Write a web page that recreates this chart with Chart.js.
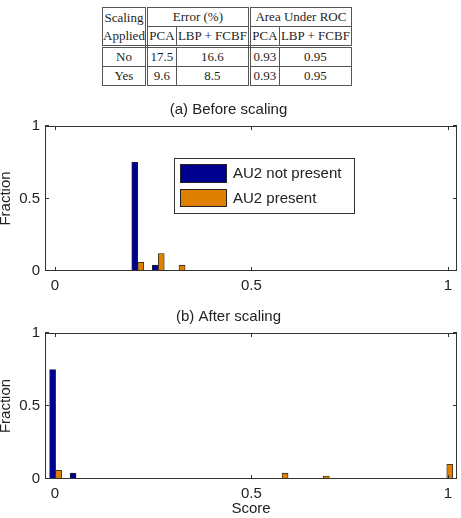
<!DOCTYPE html>
<html>
<head>
<meta charset="utf-8">
<script src="https://cdn.jsdelivr.net/npm/chart.js@4/dist/chart.umd.min.js"></script>
<style>
html,body{margin:0;padding:0;background:#fff;width:461px;height:518px;overflow:hidden;position:relative;}
#tbl{position:absolute;left:102px;top:7px;border-collapse:collapse;table-layout:fixed;
  font-family:"Liberation Serif","Times New Roman",serif;font-size:13px;color:#1e1e1e;}
#tbl td{border:1px solid #555;padding:0;text-align:center;height:18px;line-height:18px;white-space:nowrap;}
#tbl .dr{border-right:3px double #555;}
#tbl .db{border-bottom:3px double #555;}
#c1{position:absolute;left:0;top:90px;}
#c2{position:absolute;left:0;top:300px;}
</style>
</head>
<body>
<table id="tbl">
  <colgroup><col style="width:42px"><col style="width:30px"><col style="width:73px"><col style="width:30px"><col style="width:72px"></colgroup>
  <tr><td rowspan="2" class="dr db">Scaling<br>Applied</td><td colspan="2" class="dr">Error (%)</td><td colspan="2">Area Under ROC</td></tr>
  <tr><td class="db">PCA</td><td class="db dr">LBP + FCBF</td><td class="db">PCA</td><td class="db">LBP + FCBF</td></tr>
  <tr><td class="dr">No</td><td>17.5</td><td class="dr">16.6</td><td>0.93</td><td>0.95</td></tr>
  <tr><td class="dr">Yes</td><td>9.6</td><td class="dr">8.5</td><td>0.93</td><td>0.95</td></tr>
</table>
<canvas id="c1" width="461" height="210"></canvas>
<canvas id="c2" width="461" height="218"></canvas>
<script>
// ---- data ----
const seriesNames = ['AU2 not present', 'AU2 present'];
const xTicks = [0, 0.5, 1];
const yTicks = [0, 0.5, 1];
const beforeBins = [0.211, 0.263, 0.316];
const beforeNotPresent = [0.75, 0.04, 0];
const beforePresent = [0.06, 0.12, 0.04];
const afterBins = [0.002, 0.054, 0.578, 0.683, 0.997];
const afterNotPresent = [0.75, 0.04, 0, 0, 0];
const afterPresent = [0.06, 0, 0.04, 0.02, 0.10];

const BLUE = '#00008f';
const ORANGE = '#e08000';
const EDGE = '#222222';
const AXIS = '#333333';
const TXT = '#222222';
const FONT = "'Liberation Sans', Arial, Helvetica, sans-serif";

function pts(bins, vals) { return bins.map((b, i) => ({ x: b, y: vals[i] })); }

const boxPlugin = {
  id: 'matlabBox',
  afterDraw(chart) {
    const { ctx, chartArea: a, scales: { x, y } } = chart;
    ctx.save();
    ctx.strokeStyle = AXIS;
    ctx.lineWidth = 1;
    ctx.strokeRect(a.left + 0.5, a.top + 0.5, a.right - a.left - 1, a.bottom - a.top - 1);
    const tl = 4;
    ctx.beginPath();
    xTicks.forEach(v => {
      const px = Math.round(x.getPixelForValue(v)) + 0.5;
      ctx.moveTo(px, a.bottom); ctx.lineTo(px, a.bottom - tl);
      ctx.moveTo(px, a.top); ctx.lineTo(px, a.top + tl);
    });
    yTicks.forEach(v => {
      const py = Math.round(y.getPixelForValue(v)) - 0.5;
      ctx.moveTo(a.left, py); ctx.lineTo(a.left + tl, py);
      ctx.moveTo(a.right, py); ctx.lineTo(a.right - tl, py);
    });
    ctx.stroke();
    ctx.restore();
  }
};

const legendPlugin = {
  id: 'insideLegend',
  afterDraw(chart) {
    const { ctx, chartArea: a } = chart;
    const bx = a.left + 129, by = a.top + 32, bw = 180, bh = 55;
    ctx.save();
    ctx.fillStyle = '#fff';
    ctx.fillRect(bx, by, bw, bh);
    ctx.strokeStyle = AXIS;
    ctx.lineWidth = 1;
    ctx.strokeRect(bx + 0.5, by + 0.5, bw, bh);
    const rows = [{ y: by + 6, h: 19 }, { y: by + 31, h: 18 }];
    chart.data.datasets.forEach((ds, i) => {
      const r = rows[i];
      ctx.fillStyle = ds.backgroundColor;
      ctx.fillRect(bx + 6, r.y, 47, r.h);
      ctx.strokeStyle = EDGE;
      ctx.strokeRect(bx + 6.5, r.y + 0.5, 46, r.h - 1);
      ctx.fillStyle = TXT;
      ctx.font = '15px ' + FONT;
      ctx.textBaseline = 'middle';
      ctx.textAlign = 'left';
      ctx.fillText(ds.label, bx + 59, r.y + r.h / 2 + 0.5);
    });
    ctx.restore();
  }
};

function makeChart(id, titleText, titlePad, bins, a, b, xh, xTitle, withLegend) {
  const font = { family: FONT, size: 15, weight: 'normal' };
  return new Chart(document.getElementById(id), {
    type: 'bar',
    data: {
      datasets: [
        { label: seriesNames[0], data: pts(bins, a), backgroundColor: BLUE, borderColor: EDGE, borderWidth: 0.8 },
        { label: seriesNames[1], data: pts(bins, b), backgroundColor: ORANGE, borderColor: EDGE, borderWidth: 0.8 }
      ]
    },
    options: {
      responsive: false,
      animation: false,
      devicePixelRatio: 1,
      datasets: { bar: { barThickness: 6, grouped: true } },
      layout: { padding: { left: 0, right: 4, top: 0, bottom: 0 } },
      plugins: {
        legend: { display: false },
        tooltip: { enabled: false },
        title: { display: true, text: titleText, font: font, color: TXT, padding: titlePad }
      },
      scales: {
        x: {
          type: 'linear', min: -0.025, max: 1.023, offset: false,
          grid: { display: false, drawTicks: false },
          border: { display: false },
          ticks: { font: font, color: TXT, padding: 6, maxRotation: 0, autoSkip: false, callback: v => String(v) },
          afterBuildTicks: s => { s.ticks = xTicks.map(v => ({ value: v })); },
          afterFit: s => { s.height = xh; },
          title: xTitle ? { display: true, text: xTitle, font: font, color: TXT, padding: { top: 0, bottom: 0.5 } } : { display: false }
        },
        y: {
          min: 0, max: 1,
          grid: { display: false, drawTicks: false },
          border: { display: false },
          ticks: { font: font, color: TXT, padding: 5, callback: v => String(v) },
          afterBuildTicks: s => { s.ticks = yTicks.map(v => ({ value: v })); },
          afterFit: s => { s.width = 45; },
          title: { display: true, text: 'Fraction', font: font, color: TXT, padding: { top: -3, bottom: 0 } }
        }
      }
    },
    plugins: withLegend ? [boxPlugin, legendPlugin] : [boxPlugin]
  });
}

makeChart('c1', '(a) Before scaling', { top: 11, bottom: 7 }, beforeBins, beforeNotPresent, beforePresent, 29, null, true);
makeChart('c2', '(b) After scaling', { top: 8, bottom: 7 }, afterBins, afterNotPresent, afterPresent, 39, 'Score', false);
</script>
</body>
</html>
